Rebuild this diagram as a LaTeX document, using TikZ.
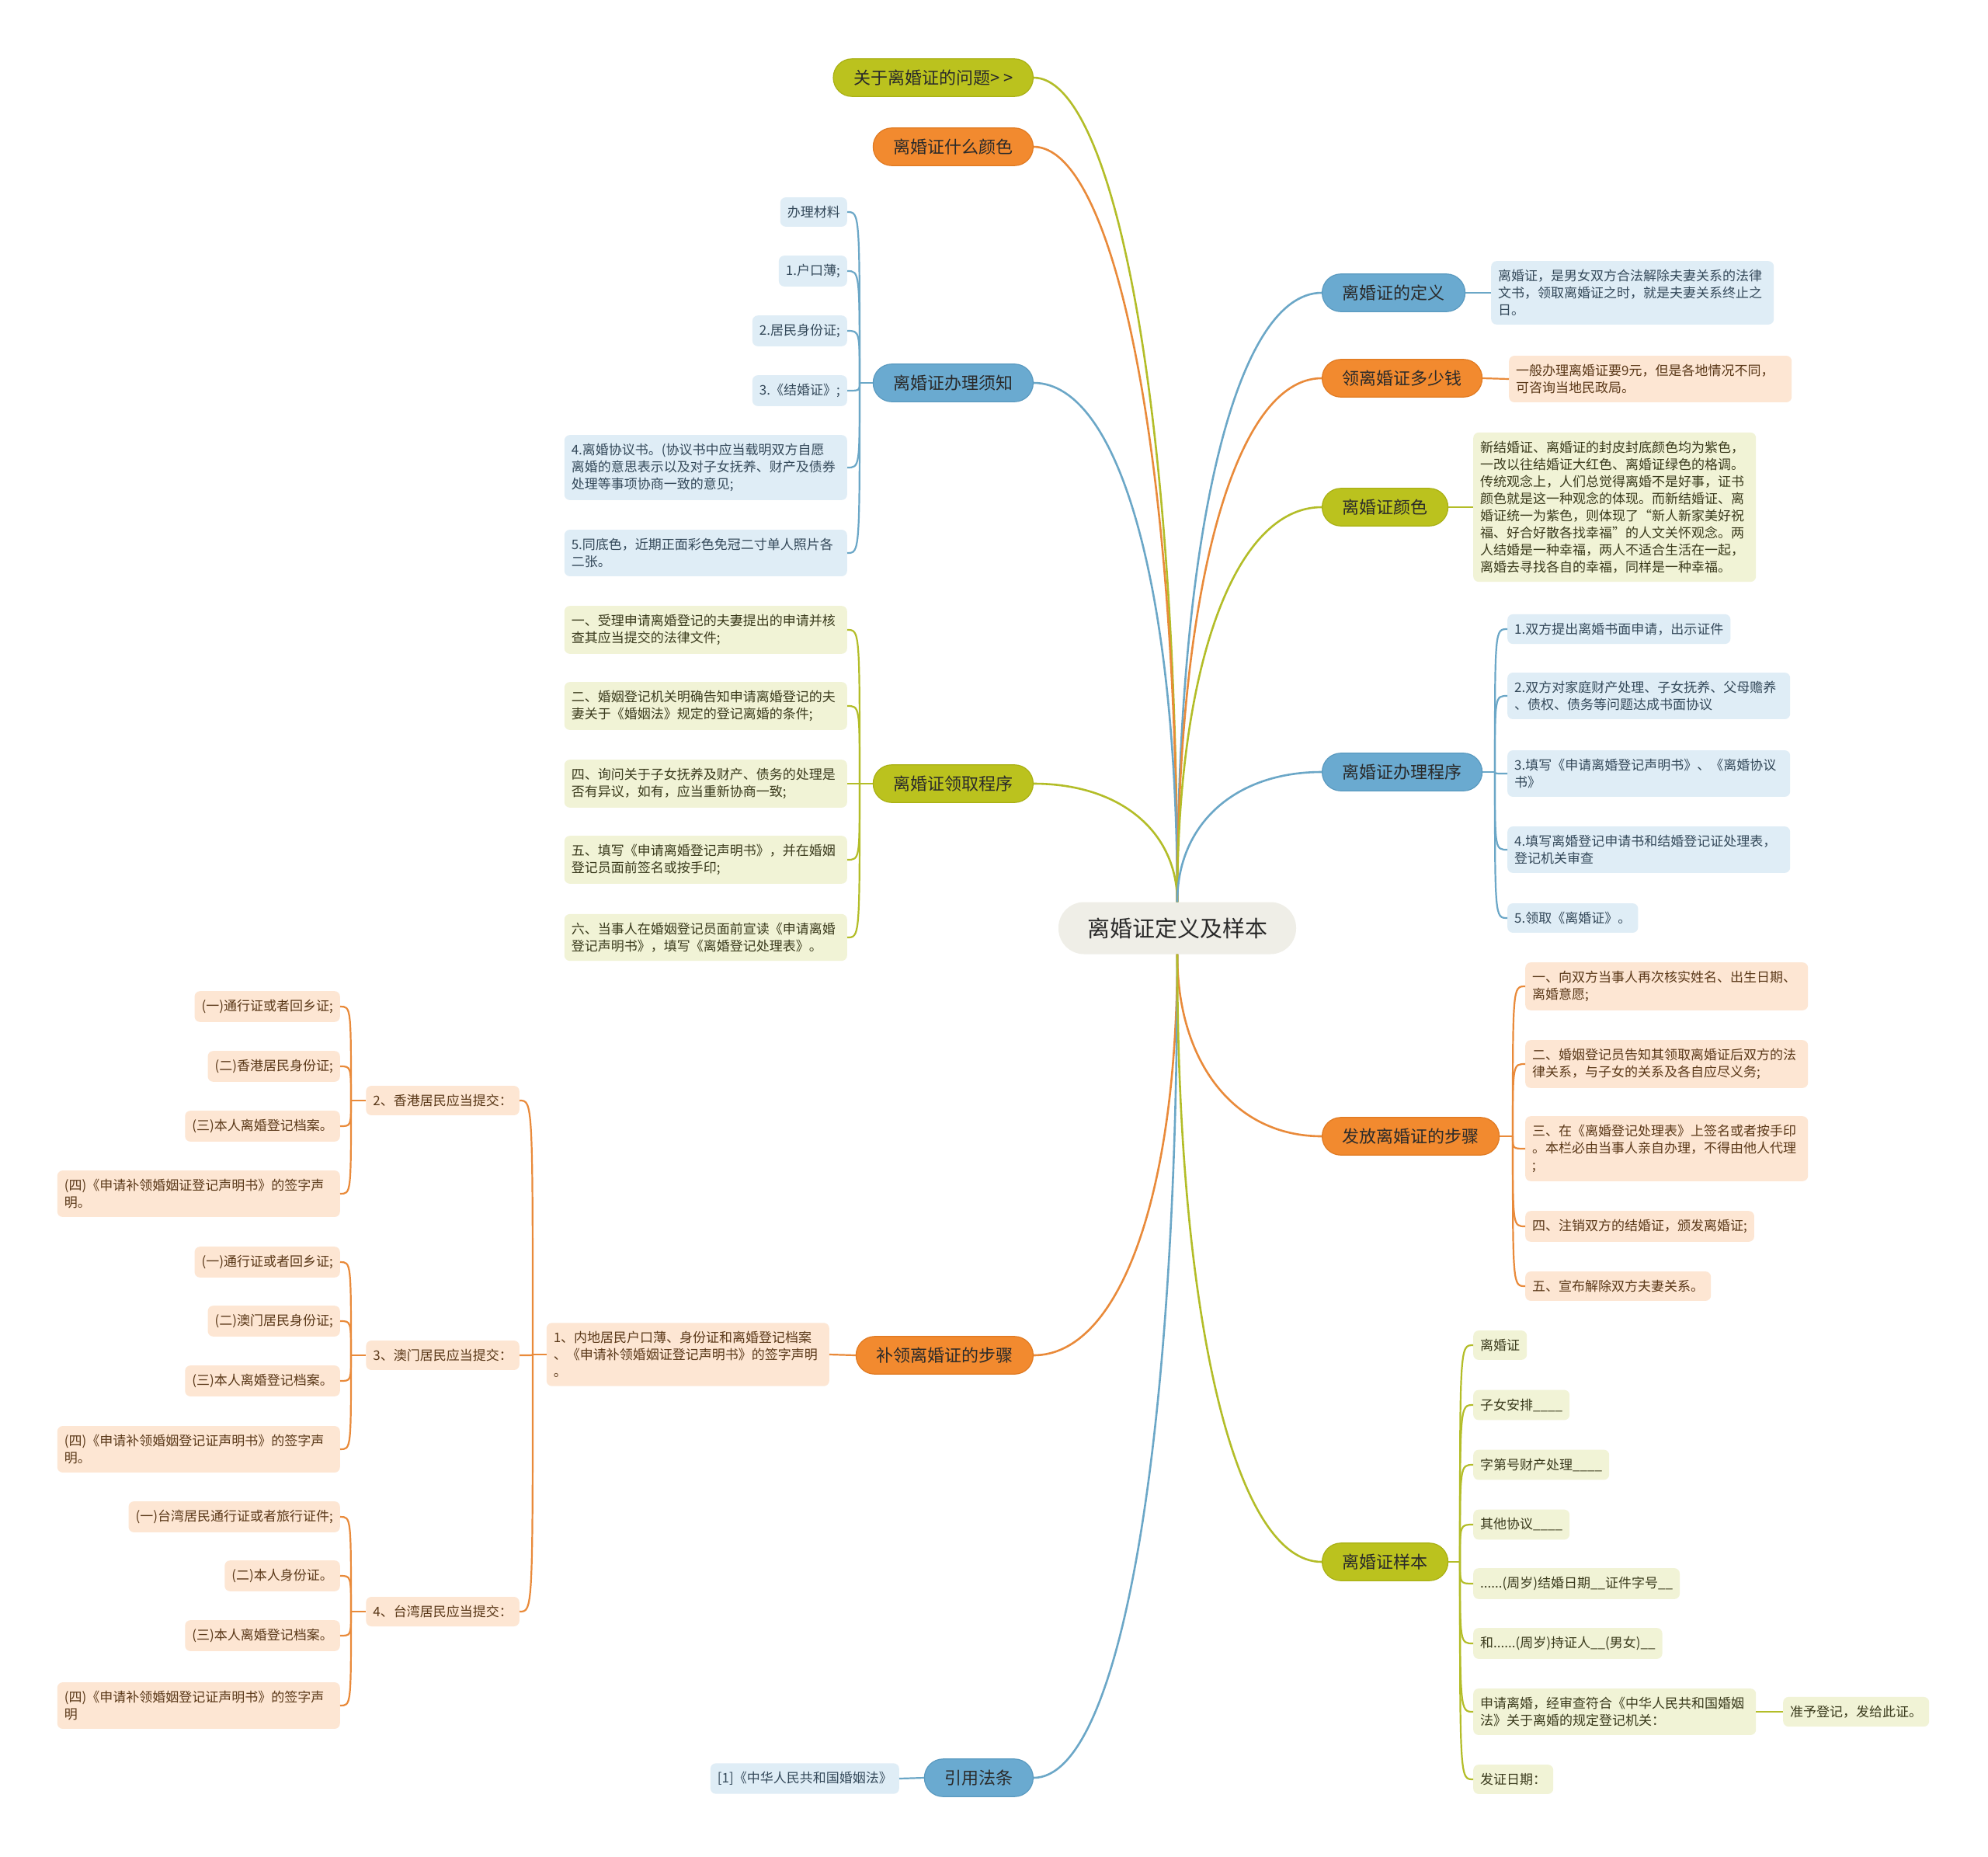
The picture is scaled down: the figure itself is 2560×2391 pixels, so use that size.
\documentclass[tikz,border=0pt]{standalone}
\usepackage{fontspec}
\setmainfont{Noto Sans CJK SC}
\usetikzlibrary{calc}
\definecolor{mBlue}{HTML}{6AAAD0}
\definecolor{mBlueD}{HTML}{5A9AC0}
\definecolor{mOrange}{HTML}{F28A2F}
\definecolor{mOrangeD}{HTML}{E07A22}
\definecolor{mGreen}{HTML}{BBC21E}
\definecolor{mGreenD}{HTML}{A9B014}
\definecolor{cFill}{HTML}{EFEEE7}
\definecolor{lBlue}{HTML}{DFEDF6}
\definecolor{lOrange}{HTML}{FDE6D3}
\definecolor{lGreen}{HTML}{F1F3D6}
\definecolor{kBlue}{HTML}{6BA7C7}
\definecolor{kOrange}{HTML}{E98A3A}
\definecolor{kGreen}{HTML}{B3BD28}
\definecolor{tBlue}{HTML}{34495A}
\definecolor{tOrange}{HTML}{5A3818}
\definecolor{tGreen}{HTML}{3A3A1C}
\definecolor{tMain}{HTML}{2A2A2A}
\newcommand\hookW[3]{\draw[#1] (#2) .. controls (#2 |- #3.east) and (#2 |- #3.east) .. (#3.east);}
\newcommand\hookE[3]{\draw[#1] (#2) .. controls (#2 |- #3.west) and (#2 |- #3.west) .. (#3.west);}
\begin{document}
\begin{tikzpicture}[x=1pt,y=-1pt,
  rootnode/.style={fill=cFill, rounded corners=33, inner xsep=37, inner ysep=20, font=\fontsize{29}{34}\selectfont, text=tMain},
  mainnode/.style={rounded corners=24, inner xsep=26, inner ysep=14, font=\fontsize{22}{26}\selectfont, text=tMain, line width=1.2},
  mb/.style={mainnode, fill=mBlue, draw=mBlueD},
  mo/.style={mainnode, fill=mOrange, draw=mOrangeD},
  mg/.style={mainnode, fill=mGreen, draw=mGreenD},
  leaf/.style={rounded corners=7, inner xsep=9, inner ysep=11, font=\fontsize{17}{22}\selectfont, align=left},
  lb/.style={leaf, fill=lBlue, text=tBlue},
  lo/.style={leaf, fill=lOrange, text=tOrange},
  lg/.style={leaf, fill=lGreen, text=tGreen},
  wide/.style={text width=346},
  cb/.style={draw=kBlue, line width=2.6},
  co/.style={draw=kOrange, line width=2.6},
  cg/.style={draw=kGreen, line width=2.6},
  tb/.style={draw=kBlue, line width=2.2},
  to/.style={draw=kOrange, line width=2.2},
  tg/.style={draw=kGreen, line width=2.2}
]
\fill[white] (0,0) rectangle (2560,2391);
\path[use as bounding box] (0,0) rectangle (2560,2391);

% root
\node[rootnode] (root) at (1516,1195) {离婚证定义及样本};

% left main branches
\node[mg, anchor=east] (m1) at (1331,100) {关于离婚证的问题> >};
\node[mo, anchor=east] (m2) at (1331,189) {离婚证什么颜色};
\node[mb, anchor=east] (m3) at (1331,493) {离婚证办理须知};
\node[mg, anchor=east] (m4) at (1331,1009) {离婚证领取程序};
\node[mo, anchor=east] (m5) at (1331,1745) {补领离婚证的步骤};
\node[mb, anchor=east] (m6) at (1331,2289) {引用法条};

% right main branches
\node[mb, anchor=west] (r1) at (1702,377) {离婚证的定义};
\node[mo, anchor=west] (r2) at (1702,487) {领离婚证多少钱};
\node[mg, anchor=west] (r3) at (1702,653) {离婚证颜色};
\node[mb, anchor=west] (r4) at (1702,994) {离婚证办理程序};
\node[mo, anchor=west] (r5) at (1702,1463) {发放离婚证的步骤};
\node[mg, anchor=west] (r6) at (1702,2011) {离婚证样本};

% main connectors
\draw[cg] (root.north) .. controls +(0,-660) and +(100,0) .. (m1.east);
\draw[co] (root.north) .. controls +(0,-600) and +(100,0) .. (m2.east);
\draw[cb] (root.north) .. controls +(0,-400) and +(111,0) .. (m3.east);
\draw[cg] (root.north) .. controls +(0,-91) and +(111,0) .. (m4.east);
\draw[co] (root.south) .. controls +(0,309) and +(111,0) .. (m5.east);
\draw[cb] (root.south) .. controls +(0,635) and +(111,0) .. (m6.east);
\draw[cb] (root.north) .. controls +(0,-470) and +(-112,0) .. (r1.west);
\draw[co] (root.north) .. controls +(0,-404) and +(-112,0) .. (r2.west);
\draw[cg] (root.north) .. controls +(0,-305) and +(-112,0) .. (r3.west);
\draw[cb] (root.north) .. controls +(0,-100) and +(-112,0) .. (r4.west);
\draw[co] (root.south) .. controls +(0,140) and +(-112,0) .. (r5.west);
\draw[cg] (root.south) .. controls +(0,469) and +(-112,0) .. (r6.west);

% m3 leaves
\node[lb, anchor=east] (a1) at (1091,273) {办理材料};
\node[lb, anchor=east] (a2) at (1091,349) {1.户口薄;};
\node[lb, anchor=east] (a3) at (1091,426) {2.居民身份证;};
\node[lb, anchor=east] (a4) at (1091,503) {3.《结婚证》;};
\node[lb, wide, anchor=east] (a5) at (1091,602) {4.离婚协议书。(协议书中应当载明双方自愿\\离婚的意思表示以及对子女抚养、财产及债券\\处理等事项协商一致的意见;};
\node[lb, wide, anchor=east] (a6) at (1091,712) {5.同底色，近期正面彩色免冠二寸单人照片各\\二张。};
\coordinate (t3) at (1107,493);
\draw[tb] (m3.west) -- (t3);
\foreach \c in {a1,a2,a3,a4,a5,a6} {\hookW{tb}{t3}{\c}}

% m4 leaves
\node[lg, wide, anchor=east] (b1) at (1091,811) {一、受理申请离婚登记的夫妻提出的申请并核\\查其应当提交的法律文件;};
\node[lg, wide, anchor=east] (b2) at (1091,909) {二、婚姻登记机关明确告知申请离婚登记的夫\\妻关于《婚姻法》规定的登记离婚的条件;};
\node[lg, wide, anchor=east] (b3) at (1091,1009) {四、询问关于子女抚养及财产、债务的处理是\\否有异议，如有，应当重新协商一致;};
\node[lg, wide, anchor=east] (b4) at (1091,1107) {五、填写《申请离婚登记声明书》，并在婚姻\\登记员面前签名或按手印;};
\node[lg, wide, anchor=east] (b5) at (1091,1207) {六、当事人在婚姻登记员面前宣读《申请离婚\\登记声明书》，填写《离婚登记处理表》。};
\coordinate (t4) at (1107,1009);
\draw[tg] (m4.west) -- (t4);
\foreach \c in {b1,b2,b3,b4,b5} {\hookW{tg}{t4}{\c}}

% m5 subtree
\node[lo, wide, anchor=east] (c1) at (1068,1744) {1、内地居民户口薄、身份证和离婚登记档案\\、《申请补领婚姻证登记声明书》的签字声明\\。};
\draw[to] (m5.west) -- (c1.east);
\node[lo, anchor=east] (h2) at (669,1417) {2、香港居民应当提交：};
\node[lo, anchor=east] (h3) at (669,1745) {3、澳门居民应当提交：};
\node[lo, anchor=east] (h4) at (669,2075) {4、台湾居民应当提交：};
\coordinate (tc1) at (686,1744);
\draw[to] (c1.west) -- (tc1);
\foreach \c in {h2,h3,h4} {\hookW{to}{tc1}{\c}}

\node[lo, anchor=east] (h21) at (438,1296) {(一)通行证或者回乡证;};
\node[lo, anchor=east] (h22) at (438,1373) {(二)香港居民身份证;};
\node[lo, anchor=east] (h23) at (438,1450) {(三)本人离婚登记档案。};
\node[lo, wide, anchor=east] (h24) at (438,1537) {(四)《申请补领婚姻证登记声明书》的签字声\\明。};
\coordinate (th2) at (452,1417);
\draw[to] (h2.west) -- (th2);
\foreach \c in {h21,h22,h23,h24} {\hookW{to}{th2}{\c}}

\node[lo, anchor=east] (h31) at (438,1625) {(一)通行证或者回乡证;};
\node[lo, anchor=east] (h32) at (438,1701) {(二)澳门居民身份证;};
\node[lo, anchor=east] (h33) at (438,1778) {(三)本人离婚登记档案。};
\node[lo, wide, anchor=east] (h34) at (438,1866) {(四)《申请补领婚姻登记证声明书》的签字声\\明。};
\coordinate (th3) at (452,1745);
\draw[to] (h3.west) -- (th3);
\foreach \c in {h31,h32,h33,h34} {\hookW{to}{th3}{\c}}

\node[lo, anchor=east] (h41) at (438,1953) {(一)台湾居民通行证或者旅行证件;};
\node[lo, anchor=east] (h42) at (438,2029) {(二)本人身份证。};
\node[lo, anchor=east] (h43) at (438,2106) {(三)本人离婚登记档案。};
\node[lo, wide, anchor=east] (h44) at (438,2196) {(四)《申请补领婚姻登记证声明书》的签字声\\明};
\coordinate (th4) at (452,2075);
\draw[to] (h4.west) -- (th4);
\foreach \c in {h41,h42,h43,h44} {\hookW{to}{th4}{\c}}

% m6 leaf
\node[lb, anchor=east] (l1) at (1158,2290) {[1]《中华人民共和国婚姻法》};
\draw[tb] (m6.west) -- (l1.east);

% right leaves
\node[lb, wide, anchor=west] (d1) at (1920,377) {离婚证，是男女双方合法解除夫妻关系的法律\\文书，领取离婚证之时，就是夫妻关系终止之\\日。};
\draw[tb] (r1.east) -- (d1.west);
\node[lo, wide, anchor=west] (d2) at (1943,488) {一般办理离婚证要9元，但是各地情况不同，\\可咨询当地民政局。};
\draw[to] (r2.east) -- (d2.west);
\node[lg, wide, anchor=west] (d3) at (1897,653) {新结婚证、离婚证的封皮封底颜色均为紫色，\\一改以往结婚证大红色、离婚证绿色的格调。\\传统观念上，人们总觉得离婚不是好事，证书\\颜色就是这一种观念的体现。而新结婚证、离\\婚证统一为紫色，则体现了“新人新家美好祝\\福、好合好散各找幸福”的人文关怀观念。两\\人结婚是一种幸福，两人不适合生活在一起，\\离婚去寻找各自的幸福，同样是一种幸福。};
\draw[tg] (r3.east) -- (d3.west);

% r4 leaves
\node[lb, anchor=west] (e1) at (1941,810) {1.双方提出离婚书面申请，出示证件};
\node[lb, wide, anchor=west] (e2) at (1941,896) {2.双方对家庭财产处理、子女抚养、父母赡养\\、债权、债务等问题达成书面协议};
\node[lb, wide, anchor=west] (e3) at (1941,996) {3.填写《申请离婚登记声明书》、《离婚协议\\书》};
\node[lb, wide, anchor=west] (e4) at (1941,1094) {4.填写离婚登记申请书和结婚登记证处理表，\\登记机关审查};
\node[lb, anchor=west] (e5) at (1941,1182) {5.领取《离婚证》。};
\coordinate (tr4) at (1925,994);
\draw[tb] (r4.east) -- (tr4);
\foreach \c in {e1,e2,e3,e4,e5} {\hookE{tb}{tr4}{\c}}

% r5 leaves
\node[lo, wide, anchor=west] (f1) at (1964,1270) {一、向双方当事人再次核实姓名、出生日期、\\离婚意愿;};
\node[lo, wide, anchor=west] (f2) at (1964,1370) {二、婚姻登记员告知其领取离婚证后双方的法\\律关系，与子女的关系及各自应尽义务;};
\node[lo, wide, anchor=west] (f3) at (1964,1479) {三、在《离婚登记处理表》上签名或者按手印\\。本栏必由当事人亲自办理，不得由他人代理\\;};
\node[lo, anchor=west] (f4) at (1964,1579) {四、注销双方的结婚证，颁发离婚证;};
\node[lo, anchor=west] (f5) at (1964,1656) {五、宣布解除双方夫妻关系。};
\coordinate (tr5) at (1948,1463);
\draw[to] (r5.east) -- (tr5);
\foreach \c in {f1,f2,f3,f4,f5} {\hookE{to}{tr5}{\c}}

% r6 leaves
\node[lg, anchor=west] (s1) at (1897,1732) {离婚证};
\node[lg, anchor=west] (s2) at (1897,1809) {子女安排\_\_\_\_};
\node[lg, anchor=west] (s3) at (1897,1886) {字第号财产处理\_\_\_\_};
\node[lg, anchor=west] (s4) at (1897,1963) {其他协议\_\_\_\_};
\node[lg, anchor=west] (s5) at (1897,2039) {......(周岁)结婚日期\_\_证件字号\_\_};
\node[lg, anchor=west] (s6) at (1897,2116) {和......(周岁)持证人\_\_(男女)\_\_};
\node[lg, wide, anchor=west] (s7) at (1897,2204) {申请离婚，经审查符合《中华人民共和国婚姻\\法》关于离婚的规定登记机关：};
\node[lg, anchor=west] (s8) at (1897,2291) {发证日期：};
\coordinate (tr6) at (1880,2011);
\draw[tg] (r6.east) -- (tr6);
\foreach \c in {s1,s2,s3,s4,s5,s6,s7,s8} {\hookE{tg}{tr6}{\c}}
\node[lg, anchor=west] (s71) at (2296,2204) {准予登记，发给此证。};
\draw[tg] (s7.east) -- (s71.west);
\end{tikzpicture}
\end{document}
